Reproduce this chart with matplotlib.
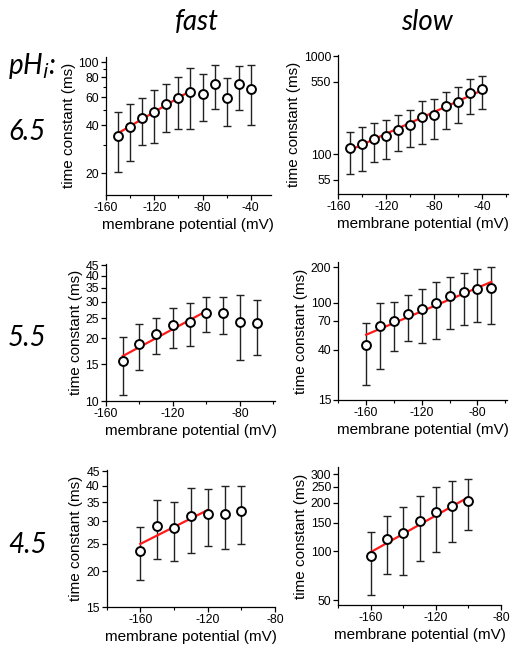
import matplotlib
matplotlib.use("Agg")
import matplotlib.pyplot as plt
from matplotlib.ticker import FixedLocator, FuncFormatter, NullFormatter

plt.rcParams['font.family'] = ['Liberation Sans', 'DejaVu Sans']
plt.rcParams['axes.unicode_minus'] = False

# ---------------- data ----------------
# pHi 6.5 fast
v_f65 = [-150, -140, -130, -120, -110, -100, -90, -80, -70, -60, -50, -40]
t_f65 = [34.4, 38.8, 44.6, 48.7, 54.6, 59.0, 65.0, 63.2, 73.0, 59.6, 72.3, 67.6]
hi_f65 = [48.4, 54.4, 59.0, 66.3, 73.0, 80.1, 92.1, 84.0, 95.7, 79.0, 94.4, 95.7]
lo_f65 = [20.3, 24.0, 30.0, 31.0, 36.4, 38.2, 38.2, 42.5, 50.6, 39.9, 49.8, 40.1]
fitv_f65 = [-150, -90]
fitt_f65 = [35.7, 66.0]

# pHi 6.5 slow
v_s65 = [-150, -140, -130, -120, -110, -100, -90, -80, -70, -60, -50, -40]
t_s65 = [115, 126, 144, 152, 178, 197, 238, 253, 310, 343, 417, 458]
hi_s65 = [167, 188, 210, 222, 249, 280, 348, 368, 433, 480, 579, 626]
lo_s65 = [62.6, 68.2, 82.9, 88.9, 107, 118, 127, 143, 180, 207, 255, 287]
fitv_s65 = [-150, -40]
fitt_s65 = [110.7, 451]

# pHi 5.5 fast
v_f55 = [-150, -140, -130, -120, -110, -100, -90, -80, -70]
t_f55 = [15.5, 18.9, 20.9, 23.1, 24.0, 26.5, 26.5, 24.1, 23.7]
hi_f55 = [20.4, 23.4, 25.0, 28.1, 29.7, 31.5, 31.5, 32.4, 30.8]
lo_f55 = [10.65, 14.1, 16.8, 18.0, 18.3, 21.4, 21.1, 15.7, 16.6]
fitv_f55 = [-150, -100]
fitt_f55 = [16.45, 27.1]

# pHi 5.5 slow
v_s55 = [-160, -150, -140, -130, -120, -110, -100, -90, -80, -70]
t_s55 = [43.6, 63.7, 69.8, 80.6, 88.3, 99.3, 114, 123.3, 130.7, 134.2]
hi_s55 = [67.5, 99.3, 101.3, 116.2, 130.7, 148.9, 166.5, 180, 192.3, 202.6]
lo_s55 = [20.1, 27.4, 38.5, 46.8, 45.6, 48.7, 59.6, 64.5, 68.0, 65.3]
fitv_s55 = [-160, -70]
fitt_s55 = [53.4, 150]

# pHi 4.5 fast
v_f45 = [-160, -150, -140, -130, -120, -110, -100]
t_f45 = [23.7, 28.85, 28.4, 31.25, 31.75, 31.9, 32.6]
hi_f45 = [28.6, 35.6, 35.2, 39.3, 39.1, 39.9, 40.1]
lo_f45 = [18.7, 22.06, 21.7, 23.3, 24.65, 23.97, 24.9]
fitv_f45 = [-160, -120]
fitt_f45 = [25.0, 32.9]

# pHi 4.5 slow
v_s45 = [-160, -150, -140, -130, -120, -110, -100]
t_s45 = [93.1, 118.8, 129.4, 153, 174.1, 191.6, 205.8]
hi_s45 = [132.6, 164.4, 187.9, 221, 248, 270.3, 278.2]
lo_s45 = [54.2, 72.3, 71.9, 87.5, 99.5, 114.9, 135.1]
fitv_s45 = [-160, -100]
fitt_s45 = [99, 216]

col_titles = ["fast", "slow"]
row_labels = ["6.5", "5.5", "4.5"]
xlabel = "membrane potential (mV)"
ylabel = "time constant (ms)"

# ---------------- layout ----------------
W, H = 513, 645
fig = plt.figure(figsize=(W / 100, H / 100), dpi=100)


def px_axes(l, r, t, b):
    return fig.add_axes([l / W, 1 - b / H, (r - l) / W, (b - t) / H])


panels = [
    # (box, v, t, hi, lo, fitv, fitt, xlim, xmaj, ylim, ymaj, ymin)
    ((106, 270.7, 56.7, 195), v_f65, t_f65, hi_f65, lo_f65, fitv_f65, fitt_f65,
     (-160, -23.5), [-160, -120, -80, -40], (14.6, 108), [20, 40, 60, 80, 100], [30, 50, 70, 90]),
    ((338.3, 507.7, 55, 194), v_s65, t_s65, hi_s65, lo_s65, fitv_s65, fitt_s65,
     (-160, -19), [-160, -120, -80, -40], (39.5, 1025), [55, 100, 550, 1000], []),
    ((106, 275, 264.3, 401), v_f55, t_f55, hi_f55, lo_f55, fitv_f55, fitt_f55,
     (-160, -59), [-160, -120, -80], (10, 45.5), [10, 15, 20, 25, 30, 35, 40, 45], []),
    ((338.3, 506.7, 262.3, 399.7), v_s55, t_s55, hi_s55, lo_s55, fitv_s55, fitt_s55,
     (-180, -59), [-160, -120, -80], (15, 220), [15, 40, 70, 100, 200], []),
    ((106.7, 275, 470, 607), v_f45, t_f45, hi_f45, lo_f45, fitv_f45, fitt_f45,
     (-180, -80), [-160, -120, -80], (15, 45.5), [15, 20, 25, 30, 35, 40, 45], []),
    ((338.3, 501, 467.3, 605.3), v_s45, t_s45, hi_s45, lo_s45, fitv_s45, fitt_s45,
     (-180, -80), [-160, -120, -80], (46.5, 330), [50, 100, 150, 200, 250, 300], []),
]

for box, v, t, hi, lo, fv, ft, xlim, xmaj, ylim, ymaj, ymin in panels:
    ax = px_axes(*box)
    ax.set_yscale('log')
    yerr = [[ti - li for ti, li in zip(t, lo)], [hi_ - ti for ti, hi_ in zip(t, hi)]]
    ax.errorbar(v, t, yerr=yerr, fmt='none', ecolor='#222222', elinewidth=1.0,
                capsize=3.2, capthick=1.0, zorder=2)
    ax.plot(fv, ft, color='#ff1a1a', lw=1.6, zorder=3)
    ax.plot(v, t, 'o', ms=6.4, mfc='white', mec='black', mew=1.4, zorder=4)
    ax.set_xlim(*xlim)
    ax.set_ylim(*ylim)
    ax.spines['top'].set_visible(False)
    ax.spines['right'].set_visible(False)
    for s in ('left', 'bottom'):
        ax.spines[s].set_linewidth(0.9)
    ax.xaxis.set_major_locator(FixedLocator(xmaj))
    xminor = [x + 20 for x in xmaj if xlim[0] <= x + 20 <= xlim[1]]
    xminor += [x - 20 for x in xmaj if xlim[0] <= x - 20 <= xlim[1] and x - 20 not in xminor]
    ax.xaxis.set_minor_locator(FixedLocator(xminor))
    ax.yaxis.set_major_locator(FixedLocator(ymaj))
    ax.yaxis.set_minor_locator(FixedLocator(ymin))
    ax.yaxis.set_major_formatter(FuncFormatter(lambda y, p: '%g' % y))
    ax.yaxis.set_minor_formatter(NullFormatter())
    ax.tick_params(which='major', direction='out', length=3.5, width=0.9,
                   labelsize=8.8, pad=1.5, colors='black')
    ax.tick_params(which='minor', direction='out', length=2, width=0.8)
    ax.set_xlabel(xlabel, fontsize=11, labelpad=3)
    ax.set_ylabel(ylabel, fontsize=11, labelpad=2)

# column titles
tfont = ['Lato', 'DejaVu Sans']
fig.text(197 / W, 1 - 22 / H, col_titles[0], ha='center', va='center',
         fontsize=20, style='italic', family=tfont)
fig.text(427 / W, 1 - 22 / H, col_titles[1], ha='center', va='center',
         fontsize=20, style='italic', family=tfont)
fig.text(8 / W, 1 - 66 / H, r'pH$_{\mathit{i}}$:', ha='left', va='center',
         fontsize=20, style='italic', family=tfont)
for lab, yy in zip(row_labels, [132, 338, 545]):
    fig.text(8 / W, 1 - yy / H, lab, ha='left', va='center',
             fontsize=20, style='italic', family=tfont)

fig.savefig('out.png', dpi=100)
